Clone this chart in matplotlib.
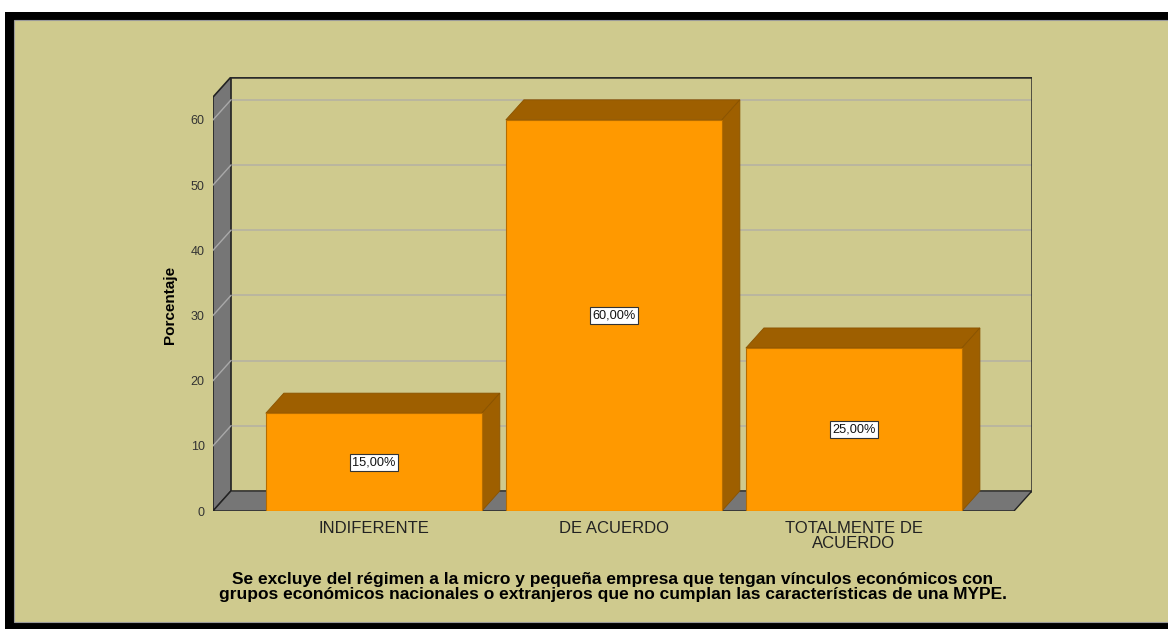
import matplotlib.pyplot as plt
from matplotlib.patches import Polygon, Rectangle
import numpy as np

# datos
categorias = ['INDIFERENTE', 'DE ACUERDO', 'TOTALMENTE DE\nACUERDO']
porcentajes = [15.0, 60.0, 25.0]
etiquetas = ['15,00%', '60,00%', '25,00%']
yticks = [0, 10, 20, 30, 40, 50, 60]
nota = ('Se excluye del régimen a la micro y pequeña empresa que tengan vínculos económicos con\n'
        'grupos económicos nacionales o extranjeros que no cumplan las características de una MYPE.')

fondo = '#CFCA8E'
naranja = '#FF9900'
oscuro = '#9E5F00'
gris = '#767676'
rejilla = '#B6B3A2'

plt.rcParams['font.family'] = ['Liberation Sans', 'DejaVu Sans']

W, H = 1168, 629
fig = plt.figure(figsize=(W / 100, H / 100), dpi=100, facecolor='white')

# marco negro y fondo
fig.patches.append(Rectangle((5 / W, 0), 1, 1 - 12 / H, transform=fig.transFigure,
                             facecolor='black', edgecolor='none', zorder=-3))
fig.patches.append(Rectangle((14 / W, 7 / H), 1, 1 - 27 / H, transform=fig.transFigure,
                             facecolor=fondo, edgecolor='#9a9a9a', linewidth=0.8, zorder=-2))

# profundidad 3D (en unidades de datos)
DX, DY = 0.075, 3.08
XL, XR, YT = -0.67, 2.667, 63.5

left, right, top, bottom = 213, 1032, 77, 511
ax = fig.add_axes([left / W, (H - bottom) / H, (right - left) / W, (bottom - top) / H])
ax.set_facecolor('none')
ax.set_xlim(XL, XR + DX)
ax.set_ylim(0, YT + DY)
for s in ax.spines.values():
    s.set_visible(False)

# pared izquierda y piso
ax.add_patch(Polygon([(XL, 0), (XL + DX, DY), (XL + DX, YT + DY), (XL, YT)],
                     closed=True, facecolor=gris, edgecolor='#222222', linewidth=1.2, zorder=1))
ax.add_patch(Polygon([(XL, 0), (XR, 0), (XR + DX, DY), (XL + DX, DY)],
                     closed=True, facecolor=gris, edgecolor='#222222', linewidth=1.0, zorder=1))

# rejilla
for t in yticks[1:]:
    ax.plot([XL + DX, XR + DX], [t + DY, t + DY], color=rejilla, linewidth=1.2, zorder=0.5)
    ax.plot([XL, XL + DX], [t, t + DY], color='#A9A9A9', linewidth=1.0, zorder=1.5)

# pared del fondo (bordes)
ax.plot([XL + DX, XR + DX, XR + DX], [YT + DY, YT + DY, DY], color='#2a2a2a',
        linewidth=1.8, zorder=1.6, solid_joinstyle='miter')

# barras
x = np.arange(len(categorias))
w = 0.9
ax.bar(x, porcentajes, w, color=naranja, edgecolor='#B56C00', linewidth=0.8, zorder=3)
for xi, v, lab in zip(x, porcentajes, etiquetas):
    x0, x1 = xi - w / 2, xi + w / 2
    ax.add_patch(Polygon([(x0, v), (x1, v), (x1 + DX, v + DY), (x0 + DX, v + DY)],
                         closed=True, facecolor=oscuro, edgecolor='#8a5300', linewidth=0.6, zorder=2.5))
    ax.add_patch(Polygon([(x1, 0), (x1 + DX, DY), (x1 + DX, v + DY), (x1, v)],
                         closed=True, facecolor=oscuro, edgecolor='#8a5300', linewidth=0.6, zorder=2.5))
    ax.text(xi, v / 2, lab, ha='center', va='center', fontsize=9.2, color='#111111', zorder=5,
            bbox=dict(boxstyle='square,pad=0.2', facecolor='white', edgecolor='#333333', linewidth=0.8))

ax.set_yticks(yticks)
ax.set_yticklabels([str(t) for t in yticks])
ax.set_xticks(x)
ax.set_xticklabels(categorias, fontsize=12, color='#222222', linespacing=1.05)
ax.tick_params(axis='y', length=0, pad=6, labelsize=9, labelcolor='#333333')
ax.tick_params(axis='x', length=0, pad=7)

fig.text(170 / W, 1 - 305 / H, 'Porcentaje', rotation=90, ha='center', va='center',
         fontsize=11, fontweight='bold', color='black')
fig.text(613 / W, 1 - 587 / H, nota, ha='center', va='center', fontsize=12.5,
         fontweight='bold', color='black', linespacing=0.93)

plt.savefig('out.png', dpi=100, facecolor='white')
